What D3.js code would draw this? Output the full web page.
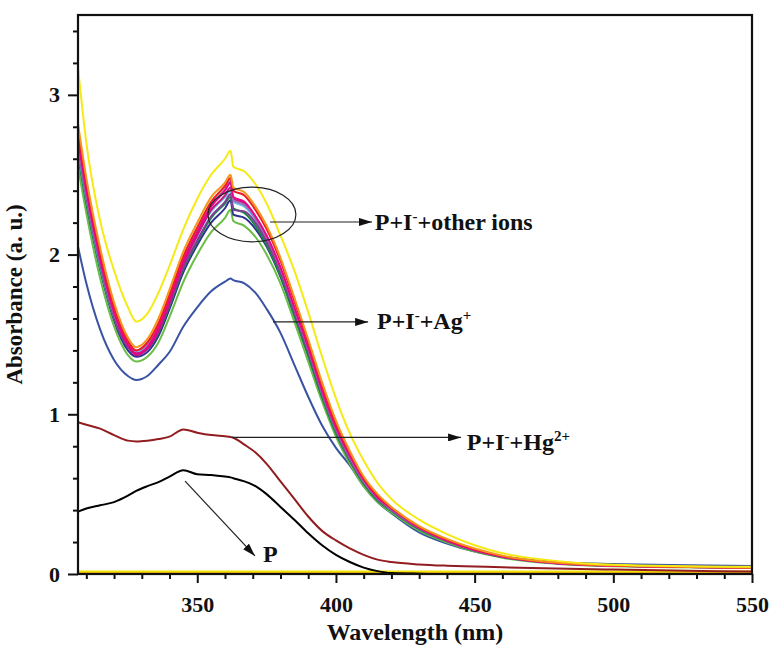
<!DOCTYPE html>
<html>
<head>
<meta charset="utf-8">
<script src="https://cdn.jsdelivr.net/npm/d3@7"></script>
<style>
body { margin: 0; background: #fff; }
svg text { font-family: "Liberation Serif", "Times New Roman", serif; font-weight: bold; fill: #111; }
</style>
</head>
<body>
<div id="chart"></div>
<script>
// wavelength grid (nm), shared by all the spectra
const wavelengths = [307, 310, 315, 320, 325, 328, 332, 336, 340, 345, 350, 355, 360, 362, 363, 367, 371, 375, 380, 385, 390, 395, 400, 405, 410, 415, 420, 430, 440, 450, 460, 475, 500, 550];

// P alone
const absP = [0.39, 0.41, 0.43, 0.45, 0.49, 0.52, 0.55, 0.575, 0.61, 0.65, 0.625, 0.62, 0.61, 0.605, 0.60, 0.58, 0.55, 0.50, 0.42, 0.34, 0.255, 0.18, 0.12, 0.075, 0.04, 0.018, 0.006, 0.002, 0, 0, 0, 0, 0, 0];
// P + I- + Hg2+
const absHg = [0.95, 0.935, 0.91, 0.87, 0.835, 0.83, 0.835, 0.845, 0.86, 0.905, 0.885, 0.87, 0.862, 0.858, 0.853, 0.81, 0.76, 0.69, 0.58, 0.47, 0.36, 0.27, 0.21, 0.16, 0.12, 0.09, 0.075, 0.06, 0.052, 0.047, 0.042, 0.036, 0.028, 0.015];
// P + I- + Ag+
const absAg = [2.05, 1.82, 1.53, 1.34, 1.24, 1.215, 1.24, 1.31, 1.39, 1.55, 1.67, 1.77, 1.83, 1.85, 1.84, 1.82, 1.76, 1.66, 1.51, 1.31, 1.11, 0.93, 0.79, 0.68, 0.55, 0.45, 0.38, 0.26, 0.19, 0.14, 0.11, 0.08, 0.062, 0.05];

// P + I- + other ions (one spectrum per ion)
const otherYellow = [3.17, 2.70, 2.21, 1.90, 1.67, 1.58, 1.63, 1.76, 1.93, 2.16, 2.35, 2.50, 2.60, 2.65, 2.55, 2.52, 2.44, 2.32, 2.12, 1.90, 1.64, 1.36, 1.10, 0.88, 0.71, 0.57, 0.47, 0.34, 0.25, 0.18, 0.13, 0.09, 0.058, 0.045];
const otherOrange = [2.82, 2.48, 2.04, 1.70, 1.48, 1.42, 1.47, 1.60, 1.78, 2.02, 2.20, 2.36, 2.45, 2.50, 2.42, 2.39, 2.30, 2.18, 1.98, 1.73, 1.47, 1.20, 0.96, 0.77, 0.61, 0.50, 0.42, 0.30, 0.22, 0.16, 0.115, 0.078, 0.054, 0.04];
const otherRed = [2.78, 2.45, 2.01, 1.67, 1.46, 1.40, 1.45, 1.57, 1.75, 1.99, 2.17, 2.33, 2.43, 2.48, 2.40, 2.37, 2.28, 2.16, 1.96, 1.71, 1.45, 1.18, 0.94, 0.76, 0.60, 0.49, 0.415, 0.295, 0.215, 0.155, 0.112, 0.076, 0.053, 0.04];
const otherPink = [2.72, 2.40, 1.97, 1.64, 1.44, 1.38, 1.42, 1.54, 1.72, 1.96, 2.14, 2.30, 2.40, 2.45, 2.36, 2.33, 2.24, 2.12, 1.92, 1.67, 1.42, 1.15, 0.92, 0.74, 0.59, 0.48, 0.41, 0.29, 0.21, 0.15, 0.11, 0.075, 0.052, 0.04];
const otherLavender = [2.70, 2.38, 1.96, 1.63, 1.45, 1.40, 1.44, 1.55, 1.73, 1.97, 2.15, 2.31, 2.41, 2.46, 2.34, 2.31, 2.23, 2.11, 1.91, 1.66, 1.41, 1.14, 0.91, 0.73, 0.58, 0.475, 0.405, 0.288, 0.21, 0.15, 0.11, 0.075, 0.053, 0.042];
const otherMagenta = [2.74, 2.41, 1.97, 1.63, 1.43, 1.37, 1.41, 1.52, 1.70, 1.94, 2.12, 2.28, 2.37, 2.42, 2.35, 2.32, 2.23, 2.11, 1.91, 1.66, 1.41, 1.14, 0.91, 0.73, 0.585, 0.475, 0.405, 0.287, 0.208, 0.148, 0.108, 0.074, 0.051, 0.04];
const otherPurple = [2.68, 2.36, 1.94, 1.61, 1.42, 1.38, 1.41, 1.52, 1.69, 1.92, 2.09, 2.24, 2.33, 2.38, 2.28, 2.27, 2.20, 2.08, 1.89, 1.64, 1.39, 1.13, 0.90, 0.72, 0.575, 0.47, 0.40, 0.285, 0.207, 0.148, 0.108, 0.075, 0.053, 0.042];
const otherCyan = [2.66, 2.35, 1.93, 1.61, 1.43, 1.39, 1.43, 1.54, 1.71, 1.94, 2.12, 2.27, 2.36, 2.40, 2.33, 2.30, 2.22, 2.10, 1.90, 1.65, 1.40, 1.13, 0.90, 0.72, 0.58, 0.47, 0.40, 0.286, 0.208, 0.148, 0.108, 0.074, 0.052, 0.041];
const otherGreenDark = [2.62, 2.32, 1.91, 1.60, 1.42, 1.38, 1.41, 1.51, 1.68, 1.91, 2.08, 2.23, 2.32, 2.36, 2.29, 2.26, 2.18, 2.06, 1.87, 1.62, 1.37, 1.11, 0.88, 0.71, 0.565, 0.46, 0.395, 0.28, 0.205, 0.146, 0.106, 0.073, 0.051, 0.04];
const otherNavy = [2.64, 2.33, 1.91, 1.59, 1.40, 1.36, 1.39, 1.49, 1.66, 1.89, 2.06, 2.20, 2.29, 2.34, 2.25, 2.23, 2.16, 2.05, 1.86, 1.62, 1.37, 1.11, 0.89, 0.71, 0.57, 0.465, 0.40, 0.285, 0.21, 0.15, 0.11, 0.076, 0.055, 0.045];
const otherGreen = [2.55, 2.26, 1.85, 1.55, 1.37, 1.33, 1.36, 1.45, 1.61, 1.83, 2.00, 2.14, 2.23, 2.28, 2.21, 2.18, 2.11, 2.00, 1.82, 1.58, 1.33, 1.08, 0.86, 0.69, 0.55, 0.45, 0.385, 0.272, 0.198, 0.14, 0.102, 0.07, 0.048, 0.038];

// flat traces lying on the baseline
const baseWavelengths = [307, 550];
const baseDarkRed = [0.004, 0.004];
const baseOrange = [0.009, 0.009];
const baseYellow = [0.016, 0.016];

const xTicksMajor = [350, 400, 450, 500, 550];
const xTicksMinor = [310, 320, 330, 340, 360, 370, 380, 390, 410, 420, 430, 440, 460, 470, 480, 490, 510, 520, 530, 540];
const yTicksMajor = [0, 1, 2, 3];
const yTicksMinor = [0.2, 0.4, 0.6, 0.8, 1.2, 1.4, 1.6, 1.8, 2.2, 2.4, 2.6, 2.8, 3.2, 3.4];

const width = 780;
const height = 652;
const margin = {top: 15, right: 28, bottom: 78, left: 78};
const innerWidth = width - margin.left - margin.right;
const innerHeight = height - margin.top - margin.bottom;

const series = [
    {values: baseDarkRed, wl: baseWavelengths, color: "#8b1a1a"},
    {values: baseOrange, wl: baseWavelengths, color: "#f7941d"},
    {values: baseYellow, wl: baseWavelengths, color: "#f2e600"},
    {values: absP, color: "#000000"},
    {values: absHg, color: "#921c1f"},
    {values: absAg, color: "#3853a4"},
    {values: otherGreen, color: "#6abd45"},
    {values: otherNavy, color: "#2e3192"},
    {values: otherGreenDark, color: "#138a3e"},
    {values: otherCyan, color: "#5ec4e8"},
    {values: otherPurple, color: "#7f3f98"},
    {values: otherMagenta, color: "#c2187d"},
    {values: otherLavender, color: "#9b72b8"},
    {values: otherPink, color: "#ec008c"},
    {values: otherRed, color: "#ed1c24"},
    {values: otherOrange, color: "#f7941d"},
    {values: otherYellow, color: "#f5ea14"}
];

const svg = d3.select("#chart").append("svg")
    .attr("width", width)
    .attr("height", height);

const xScale = d3.scaleLinear()
    .domain([307, 550])
    .range([0, innerWidth]);

const yScale = d3.scaleLinear()
    .domain([0, 3.5])
    .range([innerHeight, 0]);

const g = svg.append("g")
    .attr("transform", `translate(${margin.left},${margin.top})`);

g.append("clipPath").attr("id", "plotClip")
    .append("rect")
    .attr("width", innerWidth)
    .attr("height", innerHeight);

const line = d3.line()
    .x(d => xScale(d[0]))
    .y(d => yScale(d[1]))
    .curve(d3.curveMonotoneX);

g.append("g")
    .attr("clip-path", "url(#plotClip)")
    .selectAll("path")
    .data(series)
    .enter().append("path")
        .attr("d", s => line((s.wl || wavelengths).map((w, i) => [w, s.values[i]])))
        .attr("fill", "none")
        .attr("stroke", s => s.color)
        .attr("stroke-width", 2)
        .attr("stroke-linejoin", "round");

// axes
const xMinorG = g.append("g")
    .attr("transform", `translate(0,${innerHeight})`)
    .call(d3.axisBottom(xScale).tickValues(xTicksMinor).tickSize(5).tickFormat(""));
const xMajorG = g.append("g")
    .attr("transform", `translate(0,${innerHeight})`)
    .call(d3.axisBottom(xScale).tickValues(xTicksMajor).tickSize(9).tickPadding(13).tickFormat(d3.format("d")));
const yMinorG = g.append("g")
    .call(d3.axisLeft(yScale).tickValues(yTicksMinor).tickSize(5).tickFormat(""));
const yMajorG = g.append("g")
    .call(d3.axisLeft(yScale).tickValues(yTicksMajor).tickSize(10).tickPadding(8).tickFormat(d3.format("d")));

// minor ticks carry no labels
xMinorG.selectAll("text").remove();
yMinorG.selectAll("text").remove();

[xMinorG, xMajorG, yMinorG, yMajorG].forEach(a => {
    a.select(".domain").remove();
    a.selectAll(".tick line").attr("stroke", "#111").attr("stroke-width", 2);
    a.selectAll("text").attr("font-size", 22).attr("fill", "#111")
        .attr("font-family", "'Liberation Serif', serif").attr("font-weight", "bold");
});

// frame
g.append("rect")
    .attr("width", innerWidth)
    .attr("height", innerHeight)
    .attr("fill", "none")
    .attr("stroke", "#111")
    .attr("stroke-width", 2.2);

// axis titles
g.append("text")
    .attr("x", innerWidth / 2)
    .attr("y", innerHeight + 66)
    .attr("text-anchor", "middle")
    .attr("font-size", 24)
    .text("Wavelength (nm)");

g.append("text")
    .attr("transform", `translate(${-56},${innerHeight / 2}) rotate(-90)`)
    .attr("text-anchor", "middle")
    .attr("font-size", 23)
    .text("Absorbance (a. u.)");

// annotations (in data units)
const defs = svg.append("defs");
defs.append("marker")
    .attr("id", "arrow")
    .attr("markerUnits", "userSpaceOnUse")
    .attr("markerWidth", 14)
    .attr("markerHeight", 8)
    .attr("refX", 13)
    .attr("refY", 4)
    .attr("orient", "auto")
    .append("path")
    .attr("d", "M0,0L13,4L0,8Z")
    .attr("fill", "#111");

const arrows = [
    {from: [376.2, 2.204], to: [413.0, 2.204]},
    {from: [377.3, 1.578], to: [411.6, 1.578]},
    {from: [362.5, 0.855], to: [445.1, 0.855]},
    {from: [345.6, 0.582], to: [370.8, 0.113]}
];

g.selectAll(".arrow")
    .data(arrows)
    .enter().append("line")
        .attr("x1", d => xScale(d.from[0]))
        .attr("y1", d => yScale(d.from[1]))
        .attr("x2", d => xScale(d.to[0]))
        .attr("y2", d => yScale(d.to[1]))
        .attr("stroke", "#222")
        .attr("stroke-width", 1.2)
        .attr("marker-end", "url(#arrow)");

g.append("ellipse")
    .attr("cx", xScale(369.7))
    .attr("cy", yScale(2.251))
    .attr("rx", xScale(369.7 + 15.86) - xScale(369.7))
    .attr("ry", yScale(2.251 - 0.171) - yScale(2.251))
    .attr("fill", "none")
    .attr("stroke", "#222")
    .attr("stroke-width", 1.2);

function label(xv, yv, parts) {
    const t = g.append("text")
        .attr("x", xScale(xv))
        .attr("y", yScale(yv))
        .attr("font-size", 24);
    parts.forEach(p => {
        const ts = t.append("tspan").text(p.text);
        if (p.sup) ts.attr("dy", -9).attr("font-size", 15);
        else if (p.back) ts.attr("dy", 9);
    });
}

label(414.0, 2.154, [{text: "P+I"}, {text: "-", sup: true}, {text: "+other ions", back: true}]);
label(414.8, 1.534, [{text: "P+I"}, {text: "-", sup: true}, {text: "+Ag", back: true}, {text: "+", sup: true}]);
label(447.2, 0.776, [{text: "P+I"}, {text: "-", sup: true}, {text: "+Hg", back: true}, {text: "2+", sup: true}]);
label(373.7, 0.075, [{text: "P"}]);
</script>
</body>
</html>
